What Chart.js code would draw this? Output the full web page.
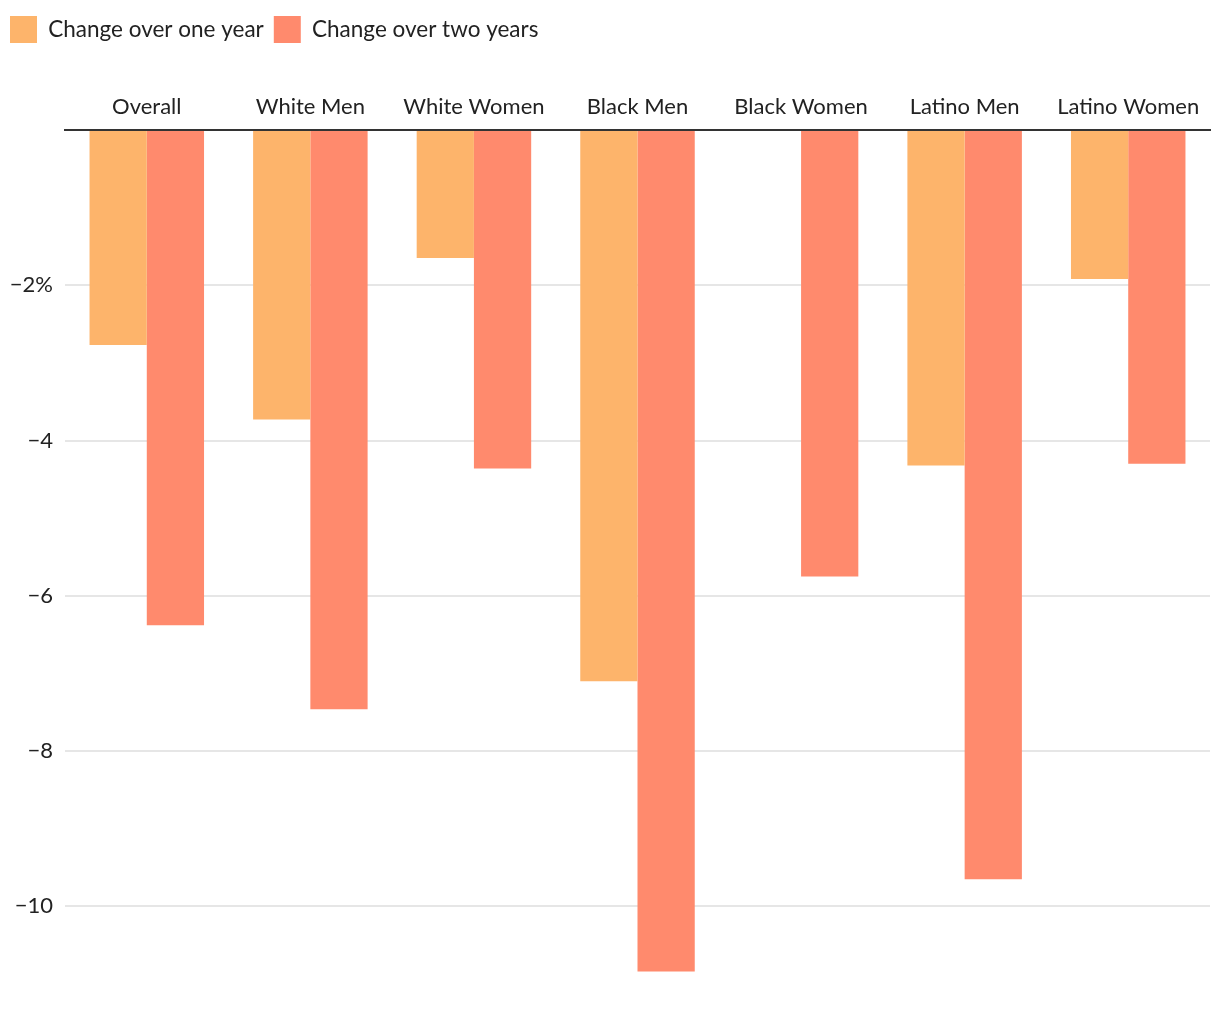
<!DOCTYPE html>
<html>
<head>
<meta charset="utf-8">
<script src="https://cdn.jsdelivr.net/npm/chart.js@4"></script>
<style>
  html, body { margin: 0; padding: 0; background: #fff; }
  #wrap { width: 1220px; height: 1020px; }
</style>
</head>
<body>
<div id="wrap"><canvas id="chartUpah"></canvas></div>
<script>
const kategori = ['Overall', 'White Men', 'White Women', 'Black Men', 'Black Women', 'Latino Men', 'Latino Women'];
const satuTahun = [-2.77, -3.73, -1.65, -7.10, null, -4.32, -1.92];
const duaTahun = [-6.38, -7.46, -4.36, -10.84, -5.75, -9.65, -4.30];
const tickY = [-10, -8, -6, -4, -2, 0];

const FONT = 'Lato, "Noto Sans", sans-serif';
Chart.defaults.font.family = FONT;
Chart.defaults.color = '#222';

const ctx = document.getElementById('chartUpah').getContext('2d');
new Chart(ctx, {
  type: 'bar',
  data: {
    labels: kategori,
    datasets: [
      { label: 'Change over one year', data: satuTahun, backgroundColor: '#FDB46B', borderWidth: 0 },
      { label: 'Change over two years', data: duaTahun, backgroundColor: '#FF8A6D', borderWidth: 0 }
    ]
  },
  options: {
    responsive: true,
    maintainAspectRatio: false,
    animation: false,
    layout: { padding: { left: 0, right: 10, top: 6, bottom: 36 } },
    datasets: { bar: { categoryPercentage: 0.7, barPercentage: 1.0 } },
    plugins: {
      tooltip: { enabled: false },
      legend: {
        position: 'top',
        align: 'start',
        labels: { boxWidth: 27, boxHeight: 27, padding: 10, font: { size: 22.5 }, color: '#222' }
      }
    },
    scales: {
      x: {
        position: 'top',
        grid: { display: false },
        border: { display: true, color: '#333', width: 2 },
        ticks: { font: { size: 22 }, color: '#222', padding: 2, maxRotation: 0 },
        afterFit: s => { s.height = 77; }
      },
      y: {
        min: -11,
        max: 0,
        grid: { color: '#e6e6e6', lineWidth: 2, drawTicks: false },
        border: { display: false },
        afterBuildTicks: s => { s.ticks = tickY.map(v => ({ value: v })); },
        afterFit: s => { s.width = 65; },
        ticks: {
          font: { size: 22 },
          color: '#222',
          padding: 12,
          callback: v => v === 0 ? '' : (v === -2 ? '\u22122%' : '\u2212' + Math.abs(v))
        }
      }
    }
  }
});
</script>
</body>
</html>
